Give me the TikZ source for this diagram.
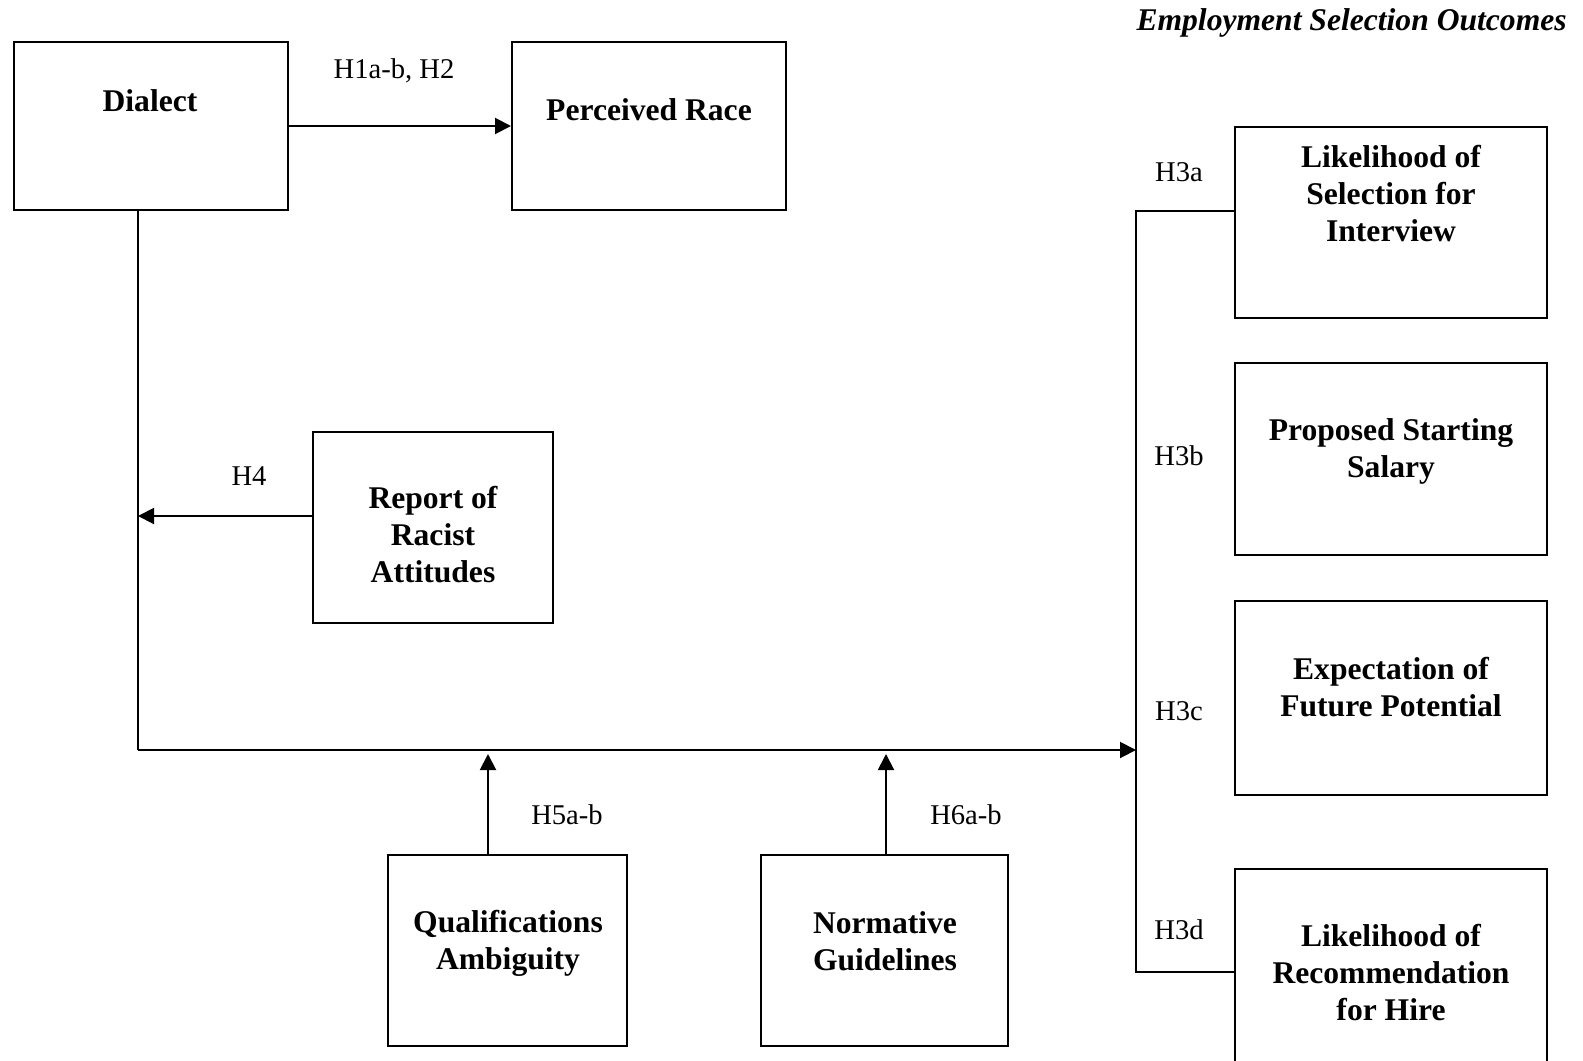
\documentclass[tikz,border=0pt]{standalone}
\usepackage{fontspec}
\setmainfont{Liberation Serif}
\usetikzlibrary{arrows.meta}
\tikzset{
  box/.style={draw, line width=1pt, inner sep=0pt},
  boxtext/.style={align=center, font=\fontsize{15.8}{18.5}\selectfont\bfseries, inner sep=0pt},
  hlab/.style={font=\fontsize{14.3}{17}\selectfont, inner sep=0pt},
  link/.style={line width=1pt},
  arr/.style={line width=1pt, -{Triangle[length=8pt,width=8pt]}}
}
\begin{document}
\begin{tikzpicture}[x=0.5pt,y=-0.5pt]
\useasboundingbox (0,0) rectangle (1583,1060);
% boxes
\node[box, minimum width=137pt, minimum height=84pt] (dial) at (151,126) {};
\node[box, minimum width=137pt, minimum height=84pt] (race) at (649,126) {};
\node[box, minimum width=120pt, minimum height=95.5pt] (report) at (433,527.5) {};
\node[box, minimum width=119.5pt, minimum height=95.5pt] (qual) at (507.5,950.5) {};
\node[box, minimum width=123.5pt, minimum height=95.5pt] (norm) at (884.5,950.5) {};
\node[box, minimum width=156pt, minimum height=95.5pt] (o1) at (1391,222.5) {};
\node[box, minimum width=156pt, minimum height=96pt] (o2) at (1391,459) {};
\node[box, minimum width=156pt, minimum height=97pt] (o3) at (1391,698) {};
\node[box, minimum width=156pt, minimum height=105pt] (o4) at (1391,974) {};
% box texts
\node[boxtext] (tdial) at (150,101) {Dialect};
\node[boxtext] (trace) at (649,110) {Perceived Race};
\node[boxtext] (treport) at (433,535) {Report of\\Racist\\Attitudes};
\node[boxtext] (tqual) at (508,943) {Qualifications\\Ambiguity};
\node[boxtext] (tnorm) at (885,941) {Normative\\Guidelines};
\node[boxtext] (to1) at (1391,194) {Likelihood of\\Selection for\\Interview};
\node[boxtext] (to2) at (1391,451.5) {Proposed Starting\\Salary};
\node[boxtext] (to3) at (1391,687) {Expectation of\\Future Potential};
\node[boxtext] (to4) at (1391,973) {Likelihood of\\Recommendation\\for Hire};
% title
\node[boxtext, font=\fontsize{15.8}{18.5}\selectfont\bfseries\itshape, anchor=east] (title) at (1567,23) {Employment Selection Outcomes};
% coordinates
\coordinate (lc) at (138,750);
\coordinate (rc) at (1136,750);
\coordinate (h4) at (138,516);
\coordinate (q5) at (488,754);
\coordinate (n6) at (886,754);
\coordinate (r1) at (1136,211);
\coordinate (r4) at (1136,972);
% connectors
\draw[arr] (dial.east) -- (race.west);
\draw[link] (dial.south -| lc) -- (lc);
\draw[arr] (lc) -- (rc);
\draw[arr] (report.west |- h4) -- (h4);
\draw[arr] (qual.north -| q5) -- (q5);
\draw[arr] (norm.north -| n6) -- (n6);
\draw[link] (o1.west |- r1) -- (r1) -- (r4) -- (o4.west |- r4);
% labels
\node[hlab] (l1) at (394,71) {H1a-b, H2};
\node[hlab] (l4) at (249,476) {H4};
\node[hlab] (l5) at (567,815) {H5a-b};
\node[hlab] (l6) at (966,815) {H6a-b};
\node[hlab] (l3a) at (1179,172) {H3a};
\node[hlab] (l3b) at (1179,456) {H3b};
\node[hlab] (l3c) at (1179,711) {H3c};
\node[hlab] (l3d) at (1179,930) {H3d};
\end{tikzpicture}
\end{document}
